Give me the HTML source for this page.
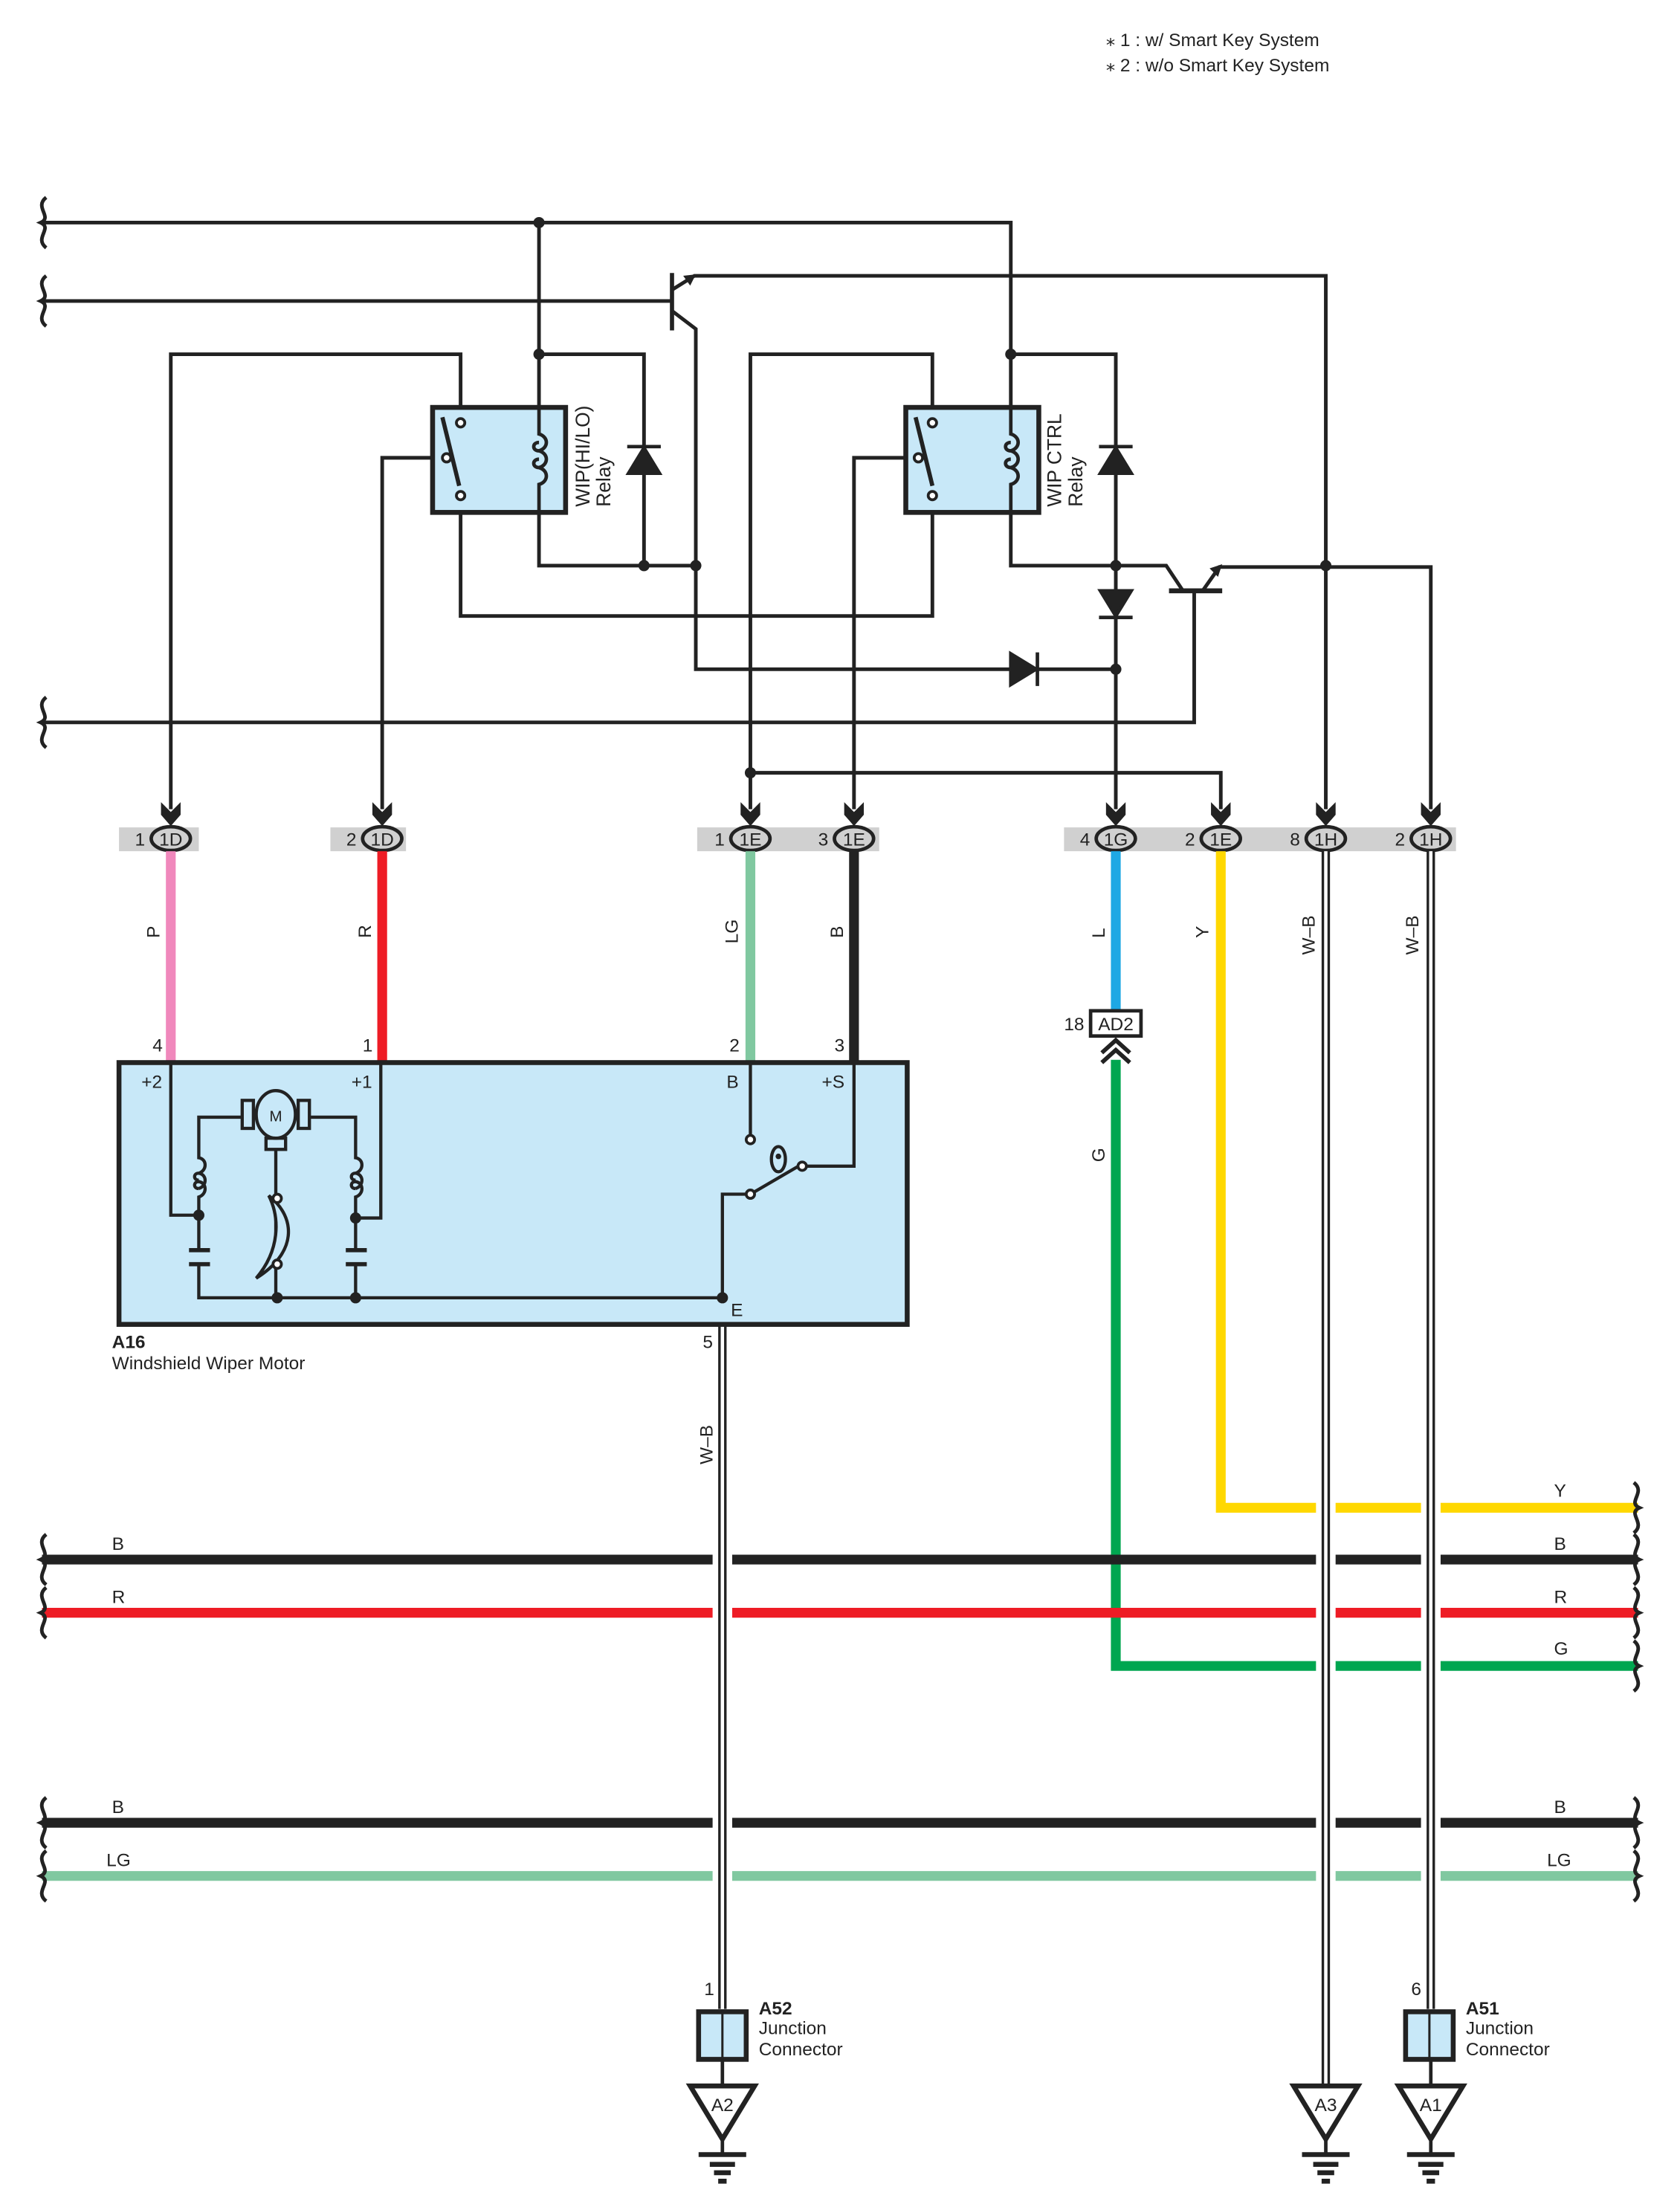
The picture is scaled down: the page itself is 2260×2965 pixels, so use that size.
<!DOCTYPE html>
<html><head><meta charset="utf-8"><style>
html,body{margin:0;padding:0;background:#fff}
svg{display:block}
text{font-family:"Liberation Sans",Arial,sans-serif;fill:#222}
</style></head><body>
<svg width="2260" height="2965" viewBox="0 0 1200 1574.3" xmlns="http://www.w3.org/2000/svg">
<defs>
<g id="arr"><polygon points="-7,-17 0,-10 7,-17 7,-8 0,0 -7,-8" fill="#222"/></g>
<g id="dot"><circle r="4" fill="#222"/></g>
</defs>
<text x="790" y="33" font-size="13">⁎ 1 : w/ Smart Key System</text>
<text x="790" y="51" font-size="13">⁎ 2 : w/o Smart Key System</text>

<g fill="none" stroke="#222" stroke-width="2.6">
<!-- braces -->
<path d="M33,141 C24,148 38,155 29,159 C38,163 24,170 33,177"/>
<path d="M33,197 C24,204 38,211 29,215 C38,219 24,226 33,233"/>
<path d="M33,498 C24,505 38,512 29,516 C38,520 24,527 33,534"/>
<!-- top wire -->
<path d="M30,159 H722 V291"/>
<path d="M385,159 V291"/>
<path d="M30,215 H480"/>
<path d="M480,195 V236" stroke-width="3"/>
<path d="M480,207 L496,197 H947 V578"/>
<path d="M480,222 L497,235 V478 H722"/>
<path d="M742,478 H797"/>
<!-- relay1 wiring -->
<path d="M122,578 V253 H329 V297"/>
<path d="M273,578 V327 H314"/>
<path d="M329,360 V440 H666 V360"/>
<path d="M385,253 H460 V404"/>
<path d="M385,366 V404 H497"/>
<!-- relay2 wiring -->
<path d="M536,578 V253 H666 V297"/>
<path d="M610,578 V327 H651"/>
<path d="M722,253 H797 V578"/>
<path d="M722,366 V404 H833 L845,422"/>
<path d="M835,422 H873" stroke-width="3.5"/>
<path d="M859,422 L871,405 H1022 V578"/>
<path d="M853,422 V516 H30"/>
<path d="M536,552 H872 V578"/>
</g>
<!-- arrowheads of transistors -->
<polygon points="497,196 488,197 493,204" fill="#222"/>
<polygon points="873,403 864,406 870,412" fill="#222"/>
<!-- diodes -->
<g fill="#222" stroke="#222" stroke-width="2.5">
<polygon points="449,338 471,338 460,320"/><line x1="448" y1="319" x2="472" y2="319"/>
<polygon points="786,338 808,338 797,320"/><line x1="785" y1="319" x2="809" y2="319"/>
<polygon points="786,422 808,422 797,440"/><line x1="785" y1="441" x2="809" y2="441"/>
<polygon points="722,467 722,489 740,478"/><line x1="741" y1="466" x2="741" y2="490"/>
</g>
<!-- dots -->
<use href="#dot" x="385" y="159"/><use href="#dot" x="385" y="253"/><use href="#dot" x="722" y="253"/>
<use href="#dot" x="460" y="404"/><use href="#dot" x="497" y="404"/><use href="#dot" x="797" y="404"/>
<use href="#dot" x="947" y="404"/><use href="#dot" x="797" y="478"/><use href="#dot" x="536" y="552"/>
<!-- relays -->
<g stroke="#222" stroke-width="3.5" fill="#c8e8f8">
<rect x="309" y="291" width="95" height="75"/>
<rect x="647" y="291" width="95" height="75"/>
</g>
<g fill="none" stroke="#222" stroke-width="2.5">
<path d="M385,291 V310 c7,2 7,10 0,12 c-5,0 -5,-6 0,-6 M385,322 c7,2 7,10 0,12 c-5,0 -5,-6 0,-6 M385,334 c7,2 7,10 0,12 V366"/>
<path d="M722,291 V310 c7,2 7,10 0,12 c-5,0 -5,-6 0,-6 M722,322 c7,2 7,10 0,12 c-5,0 -5,-6 0,-6 M722,334 c7,2 7,10 0,12 V366"/>
<path d="M316,298 L328,347" stroke-width="3"/><path d="M654,298 L666,347" stroke-width="3"/>
</g>
<g fill="#fff" stroke="#222" stroke-width="2">
<circle cx="329" cy="302" r="3"/><circle cx="319" cy="327" r="3"/><circle cx="329" cy="354" r="3"/>
<circle cx="666" cy="302" r="3"/><circle cx="656" cy="327" r="3"/><circle cx="666" cy="354" r="3"/>
</g>
<text transform="translate(421,362) rotate(-90)" font-size="14">WIP(HI/LO)</text>
<text transform="translate(436,362) rotate(-90)" font-size="14">Relay</text>
<text transform="translate(758,362) rotate(-90)" font-size="14">WIP CTRL</text>
<text transform="translate(773,362) rotate(-90)" font-size="14">Relay</text>

<!-- connector bars -->
<g fill="#d0d0d0">
<rect x="85" y="591" width="57" height="17"/><rect x="236" y="591" width="54" height="17"/>
<rect x="498" y="591" width="130" height="17"/><rect x="760" y="591" width="280" height="17"/>
</g>
<g font-size="13">
<g transform="translate(122,0)"><use href="#arr" y="590"/><ellipse cx="0" cy="599" rx="14" ry="8.5" fill="#d0d0d0" stroke="#222" stroke-width="2.5"/><text x="0" y="604" text-anchor="middle">1D</text><text x="-22" y="604" text-anchor="middle">1</text></g>
<g transform="translate(273,0)"><use href="#arr" y="590"/><ellipse cx="0" cy="599" rx="14" ry="8.5" fill="#d0d0d0" stroke="#222" stroke-width="2.5"/><text x="0" y="604" text-anchor="middle">1D</text><text x="-22" y="604" text-anchor="middle">2</text></g>
<g transform="translate(536,0)"><use href="#arr" y="590"/><ellipse cx="0" cy="599" rx="14" ry="8.5" fill="#d0d0d0" stroke="#222" stroke-width="2.5"/><text x="0" y="604" text-anchor="middle">1E</text><text x="-22" y="604" text-anchor="middle">1</text></g>
<g transform="translate(610,0)"><use href="#arr" y="590"/><ellipse cx="0" cy="599" rx="14" ry="8.5" fill="#d0d0d0" stroke="#222" stroke-width="2.5"/><text x="0" y="604" text-anchor="middle">1E</text><text x="-22" y="604" text-anchor="middle">3</text></g>
<g transform="translate(797,0)"><use href="#arr" y="590"/><ellipse cx="0" cy="599" rx="14" ry="8.5" fill="#d0d0d0" stroke="#222" stroke-width="2.5"/><text x="0" y="604" text-anchor="middle">1G</text><text x="-22" y="604" text-anchor="middle">4</text></g>
<g transform="translate(872,0)"><use href="#arr" y="590"/><ellipse cx="0" cy="599" rx="14" ry="8.5" fill="#d0d0d0" stroke="#222" stroke-width="2.5"/><text x="0" y="604" text-anchor="middle">1E</text><text x="-22" y="604" text-anchor="middle">2</text></g>
<g transform="translate(947,0)"><use href="#arr" y="590"/><ellipse cx="0" cy="599" rx="14" ry="8.5" fill="#d0d0d0" stroke="#222" stroke-width="2.5"/><text x="0" y="604" text-anchor="middle">1H</text><text x="-22" y="604" text-anchor="middle">8</text></g>
<g transform="translate(1022,0)"><use href="#arr" y="590"/><ellipse cx="0" cy="599" rx="14" ry="8.5" fill="#d0d0d0" stroke="#222" stroke-width="2.5"/><text x="0" y="604" text-anchor="middle">1H</text><text x="-22" y="604" text-anchor="middle">2</text></g>
</g>

<!-- colored wires down -->
<g fill="none" stroke-width="7">
<path d="M122,608 V759" stroke="#f088bc"/>
<path d="M273,608 V759" stroke="#ee1c25"/>
<path d="M536,608 V759" stroke="#80c8a0"/>
<path d="M610,608 V759" stroke="#222"/>
<path d="M797,608 V722" stroke="#1ea8e4"/>
<path d="M872,608 V1077 H1170" stroke="#ffd800"/>
<path d="M797,757 V1190 H1170" stroke="#00a650"/>
</g>

<!-- bus lines -->
<g fill="none" stroke-width="7">
<path d="M30,1114 H1170" stroke="#222"/>
<path d="M30,1152 H1170" stroke="#ee1c25"/>
<path d="M30,1302 H1170" stroke="#222"/>
<path d="M30,1340 H1170" stroke="#80c8a0"/>
</g>
<g fill="none" stroke="#222" stroke-width="2.6">
<path d="M33,1096 C24,1103 38,1110 29,1114 C38,1118 24,1125 33,1132"/>
<path d="M33,1134 C24,1141 38,1148 29,1152 C38,1156 24,1163 33,1170"/>
<path d="M33,1284 C24,1291 38,1298 29,1302 C38,1306 24,1313 33,1320"/>
<path d="M33,1322 C24,1329 38,1336 29,1340 C38,1344 24,1351 33,1358"/>
<path d="M1167,1059 C1176,1066 1162,1073 1171,1077 C1162,1081 1176,1088 1167,1095"/>
<path d="M1167,1096 C1176,1103 1162,1110 1171,1114 C1162,1118 1176,1125 1167,1132"/>
<path d="M1167,1134 C1176,1141 1162,1148 1171,1152 C1162,1156 1176,1163 1167,1170"/>
<path d="M1167,1172 C1176,1179 1162,1186 1171,1190 C1162,1194 1176,1201 1167,1208"/>
<path d="M1167,1284 C1176,1291 1162,1298 1171,1302 C1162,1306 1176,1313 1167,1320"/>
<path d="M1167,1322 C1176,1329 1162,1336 1171,1340 C1162,1344 1176,1351 1167,1358"/>
</g>
<!-- W-B double verticals with white gaps -->
<g fill="#fff">
<rect x="509" y="1060" width="14" height="300"/>
<rect x="940" y="1060" width="14" height="300"/>
<rect x="1015" y="1060" width="14" height="300"/>
</g>
<g fill="none">
<path d="M516,946 V1435" stroke="#222" stroke-width="6"/><path d="M516,946 V1435" stroke="#fff" stroke-width="2.4"/>
<path d="M947,608 V1490" stroke="#222" stroke-width="6"/><path d="M947,608 V1490" stroke="#fff" stroke-width="2.4"/>
<path d="M1022,608 V1435" stroke="#222" stroke-width="6"/><path d="M1022,608 V1435" stroke="#fff" stroke-width="2.4"/>
</g>

<g font-size="13">
<text transform="translate(114,670) rotate(-90)">P</text>
<text transform="translate(265,670) rotate(-90)">R</text>
<text transform="translate(527,674) rotate(-90)">LG</text>
<text transform="translate(602,670) rotate(-90)">B</text>
<text transform="translate(789,670) rotate(-90)">L</text>
<text transform="translate(863,670) rotate(-90)">Y</text>
<text transform="translate(939,682) rotate(-90)">W–B</text>
<text transform="translate(1013,682) rotate(-90)">W–B</text>
<text transform="translate(789,830) rotate(-90)">G</text>
<text transform="translate(509,1046) rotate(-90)">W–B</text>
<text x="80" y="1107">B</text><text x="1110" y="1107">B</text>
<text x="80" y="1145">R</text><text x="1110" y="1145">R</text>
<text x="1110" y="1069">Y</text><text x="1110" y="1182">G</text>
<text x="80" y="1295">B</text><text x="1110" y="1295">B</text>
<text x="76" y="1333">LG</text><text x="1105" y="1333">LG</text>
<text x="109" y="751">4</text><text x="259" y="751">1</text><text x="521" y="751">2</text><text x="596" y="751">3</text>
<text x="760" y="736">18</text>
<text x="502" y="963">5</text>
<text x="503" y="1425">1</text><text x="1008" y="1425">6</text>
</g>
<!-- AD2 -->
<rect x="779" y="722" width="36" height="18" fill="#fff" stroke="#222" stroke-width="2.5"/>
<text x="797" y="736" font-size="13" text-anchor="middle">AD2</text>
<path d="M787,752 L797,743 L807,752 M787,759 L797,750 L807,759" fill="none" stroke="#222" stroke-width="3"/>

<!-- motor box -->
<rect x="85" y="759" width="563" height="187" fill="#c8e8f8" stroke="#222" stroke-width="3.5"/>
<g fill="none" stroke="#222" stroke-width="2.3">
<path d="M122,759 V868 H142"/>
<path d="M142,868 V855 c6,-2 6,-10 0,-11 c-4,0 -4,5 0,5 M142,849 c6,-2 6,-10 0,-11 c-4,0 -4,5 0,5 M142,838 c6,-2 6,-10 0,-11 V798 H172"/>
<path d="M272,759 V870 H254"/>
<path d="M254,870 V855 c6,-2 6,-10 0,-11 c-4,0 -4,5 0,5 M254,849 c6,-2 6,-10 0,-11 c-4,0 -4,5 0,5 M254,838 c6,-2 6,-10 0,-11 V798 H222"/>
<path d="M142,870 V893 M142,903 V927 H516 M254,870 V893 M254,903 V927"/>
<path d="M135,893 H150 M135,903 H150 M247,893 H262 M247,903 H262" stroke-width="3"/>
<ellipse cx="197" cy="796" rx="14" ry="17"/>
<rect x="173" y="786" width="8" height="20"/><rect x="213" y="786" width="8" height="20"/>
<rect x="190" y="813" width="14" height="8"/>
<path d="M197,821 V927"/>
<path d="M192,854 C212,870 212,895 183,913 C200,893 200,870 192,854 Z" fill="#c8e8f8"/>
<path d="M536,759 V811 M610,759 V833 H575"/>
<path d="M536,853 L572,832"/>
<path d="M516,927 V853 H533"/>
<ellipse cx="556" cy="828" rx="5" ry="9"/>
</g>
<g fill="#fff" stroke="#222" stroke-width="2">
<circle cx="536" cy="814" r="3"/><circle cx="536" cy="853" r="3"/><circle cx="573" cy="833" r="3"/>
<circle cx="198" cy="856" r="3"/><circle cx="198" cy="903" r="3"/>
</g>
<circle cx="556" cy="826" r="2" fill="#222"/>
<use href="#dot" x="142" y="868"/><use href="#dot" x="254" y="870"/>
<use href="#dot" x="198" y="927"/><use href="#dot" x="254" y="927"/><use href="#dot" x="516" y="927"/>
<text x="197" y="801" font-size="11" text-anchor="middle">M</text>
<g font-size="13">
<text x="101" y="777">+2</text><text x="251" y="777">+1</text><text x="519" y="777">B</text><text x="587" y="777">+S</text>
<text x="522" y="940">E</text>
<text x="80" y="963" font-weight="bold">A16</text>
<text x="80" y="978">Windshield Wiper Motor</text>
</g>

<!-- junction connectors & grounds -->
<g stroke="#222" stroke-width="3.5" fill="#c8e8f8">
<rect x="499" y="1437" width="34" height="34"/><rect x="1004" y="1437" width="34" height="34"/>
</g>
<g stroke="#222" stroke-width="1.6"><path d="M516,1437 V1471 M1021,1437 V1471"/></g>
<g stroke="#222" stroke-width="2.5" fill="none"><path d="M516,1471 V1490 M1022,1471 V1490"/></g>
<g stroke="#222" stroke-width="3.5" fill="#fff">
<polygon points="493,1490 539,1490 516,1528"/>
<polygon points="924,1490 970,1490 947,1528"/>
<polygon points="999,1490 1045,1490 1022,1528"/>
</g>
<g stroke="#222" fill="none">
<path d="M516,1528 V1539 M947,1528 V1539 M1022,1528 V1539" stroke-width="2.5"/>
<path d="M499,1539 H533 M507,1546 H525 M510,1552 H522 M513,1558 H519 M930,1539 H964 M938,1546 H956 M941,1552 H953 M944,1558 H950 M1005,1539 H1039 M1013,1546 H1031 M1016,1552 H1028 M1019,1558 H1025" stroke-width="3.5"/>
</g>
<g font-size="13">
<text x="516" y="1508" text-anchor="middle">A2</text>
<text x="947" y="1508" text-anchor="middle">A3</text>
<text x="1022" y="1508" text-anchor="middle">A1</text>
<text x="542" y="1439" font-weight="bold">A52</text><text x="542" y="1453">Junction</text><text x="542" y="1468">Connector</text>
<text x="1047" y="1439" font-weight="bold">A51</text><text x="1047" y="1453">Junction</text><text x="1047" y="1468">Connector</text>
</g>
</svg>
</body></html>
